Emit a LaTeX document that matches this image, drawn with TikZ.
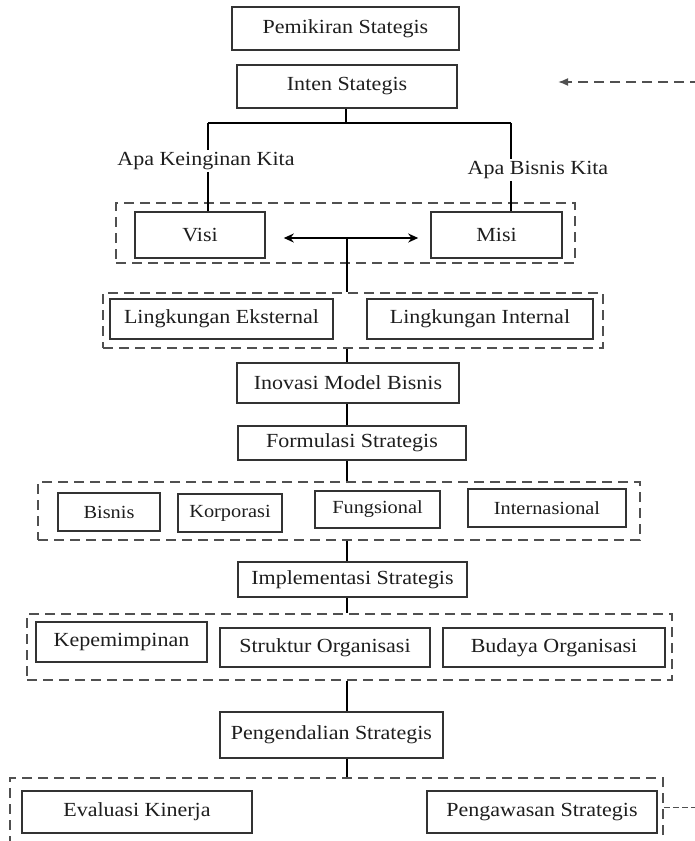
\documentclass[tikz,border=0pt]{standalone}
\usepackage{fontspec}
\setmainfont{Liberation Serif}[FakeStretch=1.1]
\usetikzlibrary{arrows.meta}
\definecolor{ink}{HTML}{1E1E1E}
\definecolor{frame}{HTML}{333333}
\definecolor{dashgray}{HTML}{505050}
\tikzset{
  bx/.style={draw=frame, line width=1.6pt, inner sep=0pt, text=ink,
    font=\fontsize{20}{24}\selectfont},
  grp/.style={draw=dashgray, line width=1.7pt, dash pattern=on 10pt off 6pt,
    inner sep=0pt},
  lbl/.style={text=ink, inner sep=2pt, font=\fontsize{20}{24}\selectfont},
  conn/.style={draw=black, line width=2.7pt},
  feedback/.style={draw=dashgray, line width=1.7pt, dash pattern=on 10pt off 6pt},
}
\begin{document}
\begin{tikzpicture}[x=1pt, y=-1pt]
\useasboundingbox (0,0) rectangle (695,841);
\fill[white] (0,0) rectangle (695,841);
\clip (0,0) rectangle (695,841);

% column along which the main flow runs
\coordinate (spine) at (347,0);

% top boxes
\node[bx, minimum width=227pt, minimum height=43pt] (pem) at (345.5,28.5) {Pemikiran Stategis};
\node[bx, minimum width=220pt, minimum height=43pt] (inten) at (347,86.5) {Inten Stategis};

% vision / mission
\node[grp, minimum width=459pt, minimum height=60pt] (gVM) at (345.5,233) {};
\node[bx, minimum width=130pt, minimum height=46pt] (visi) at (200,235) {Visi};
\node[bx, minimum width=131pt, minimum height=46pt] (misi) at (496.5,235) {Misi};
\node[lbl] (lk) at (206,161) {Apa Keinginan Kita};
\node[lbl] (lb) at (538,170) {Apa Bisnis Kita};

% environment
\node[grp, minimum width=500pt, minimum height=55pt] (gL) at (353,320.5) {};
\node[bx, minimum width=223pt, minimum height=40pt] (lingE) at (221.5,319) {Lingkungan Eksternal};
\node[bx, minimum width=226pt, minimum height=40pt] (lingI) at (480,319) {Lingkungan Internal};

\node[bx, minimum width=222pt, minimum height=40pt] (inov) at (348,383) {Inovasi Model Bisnis};
\node[bx, minimum width=228pt, minimum height=34pt] (form) at (352,443) {Formulasi Strategis};

% strategy levels
\node[grp, minimum width=602pt, minimum height=58pt] (gF) at (339,511) {};
\node[bx, minimum width=102pt, minimum height=38pt, font=\fontsize{18.5}{22}\selectfont] (bis) at (109,512) {Bisnis};
\node[bx, minimum width=104pt, minimum height=38pt, font=\fontsize{18.5}{22}\selectfont] (kor) at (230,513) {Korporasi};
\node[bx, minimum width=125pt, minimum height=37pt, font=\fontsize{18.5}{22}\selectfont] (fung) at (377.5,509.5) {Fungsional};
\node[bx, minimum width=158pt, minimum height=38pt, font=\fontsize{18.5}{22}\selectfont] (intl) at (547,508) {Internasional};

\node[bx, minimum width=229pt, minimum height=35pt] (impl) at (352.5,579.5) {Implementasi Strategis};

% implementation factors
\node[grp, minimum width=645pt, minimum height=66pt] (gI) at (349.5,647) {};
\node[bx, minimum width=171pt, minimum height=40pt] (kep) at (121.5,642) {Kepemimpinan};
\node[bx, minimum width=210pt, minimum height=39pt] (str) at (325,647.5) {Struktur Organisasi};
\node[bx, minimum width=222pt, minimum height=39pt] (bud) at (554,647.5) {Budaya Organisasi};

\node[bx, minimum width=223pt, minimum height=46pt] (peng) at (331.5,735) {Pengendalian Strategis};

% control
\node[grp, minimum width=653pt, minimum height=92pt] (gB) at (336.5,824) {};
\node[bx, minimum width=230pt, minimum height=42pt] (eval) at (137,812) {Evaluasi Kinerja};
\node[bx, minimum width=230pt, minimum height=42pt] (pengw) at (542,812) {Pengawasan Strategis};

% connectors: intent splits to vision and mission
\coordinate (j1) at (346,123);
\coordinate (jl) at (208,123);
\coordinate (jr) at (511,123);
\draw[conn] (inten.south -| j1) -- (j1);
\draw[conn] (jl) -- (jr);
\draw[conn] (jl) -- (lk.north -| jl);
\draw[conn] (lk.south -| jl) -- (visi.north -| jl);
\draw[conn] (jr) -- (lb.north -| jr);
\draw[conn] (lb.south -| jr) -- (misi.north -| jr);

% vision <-> mission
\draw[conn, {Stealth[length=10pt,width=9pt]}-{Stealth[length=10pt,width=9pt]}]
  ([xshift=18pt,yshift=-3pt]visi.east) -- ([xshift=-12pt,yshift=-3pt]misi.west);
\coordinate (ja) at (347,238);
\draw[conn] (ja) -- (ja |- gL.north);

% main flow
\draw[conn] (spine |- gL.south) -- (spine |- inov.north);
\draw[conn] (spine |- inov.south) -- (spine |- form.north);
\draw[conn] (spine |- form.south) -- (spine |- gF.north);
\draw[conn] (spine |- gF.south) -- (spine |- impl.north);
\draw[conn] (spine |- impl.south) -- (spine |- gI.north);
\draw[conn] (spine |- gI.south) -- (spine |- peng.north);
\draw[conn] (spine |- peng.south) -- (spine |- gB.north);

% feedback loop ends
\coordinate (fbIn) at (700,82);
\coordinate (fbTip) at (558,82);
\draw[feedback, -{Latex[length=10pt,width=8pt]}] (fbIn) -- (fbTip);
\coordinate (fbOut) at (700,807);
\draw[feedback, line width=1pt, dash pattern=on 6pt off 3pt] (gB.east |- fbOut) -- (fbOut);
\end{tikzpicture}
\end{document}
